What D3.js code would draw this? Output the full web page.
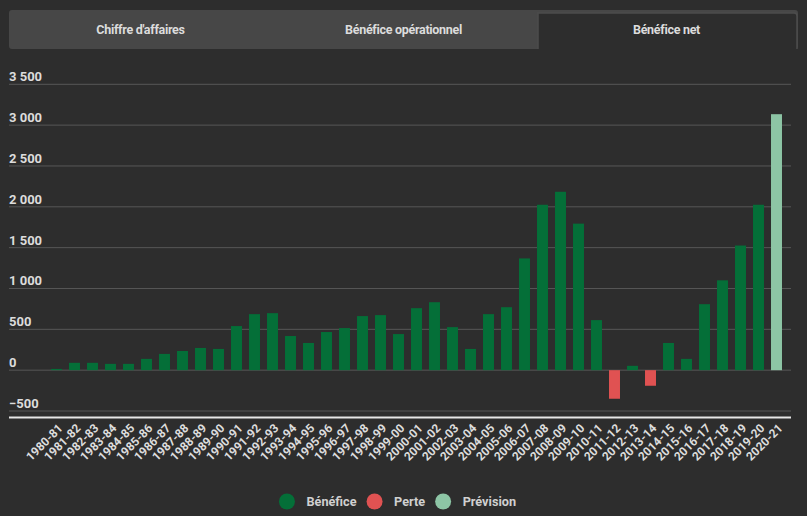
<!DOCTYPE html>
<html>
<head>
<meta charset="utf-8">
<script src="https://cdn.jsdelivr.net/npm/d3@7"></script>
<style>
    body { margin: 0; background: #2d2d2d; }
    svg { display: block; font-family: Roboto, "Noto Sans", sans-serif; }
</style>
</head>
<body>
<div id="chart"></div>
<script>
// Fiscal years
const years = [
    "1980-81", "1981-82", "1982-83", "1983-84", "1984-85", "1985-86", "1986-87", "1987-88",
    "1988-89", "1989-90", "1990-91", "1991-92", "1992-93", "1993-94", "1994-95", "1995-96",
    "1996-97", "1997-98", "1998-99", "1999-00", "2000-01", "2001-02", "2002-03", "2003-04",
    "2004-05", "2005-06", "2006-07", "2007-08", "2008-09", "2009-10", "2010-11", "2011-12",
    "2012-13", "2013-14", "2014-15", "2015-16", "2016-17", "2017-18", "2018-19", "2019-20",
    "2020-21"
];

// Net profit per year (last one is a forecast)
const netValues = [
    15, 90, 90, 77, 77, 138, 199, 235, 272, 260,
    540, 686, 698, 418, 333, 467, 515, 662, 674, 442,
    759, 832, 527, 260, 686, 771, 1368, 2025, 2184, 1794,
    613, -350, 53, -191, 333, 138, 808, 1100, 1526, 2025,
    3134
];
const forecastYears = ["2020-21"];

const yTicks = [-500, 0, 500, 1000, 1500, 2000, 2500, 3000, 3500];
const tabs = ["Chiffre d'affaires", "Bénéfice opérationnel", "Bénéfice net"];
const activeTab = "Bénéfice net";

const legendItems = [
    { key: "profit", label: "Bénéfice", color: "#046f38" },
    { key: "loss", label: "Perte", color: "#e05252" },
    { key: "forecast", label: "Prévision", color: "#8dc5a5" }
];

const width = 807;
const height = 516;
const colorOf = Object.fromEntries(legendItems.map(d => [d.key, d.color]));

const data = years.map((year, i) => ({
    year,
    value: netValues[i],
    kind: forecastYears.includes(year) ? "forecast" : (netValues[i] < 0 ? "loss" : "profit")
}));

const svg = d3.select("#chart").append("svg")
    .attr("width", width)
    .attr("height", height);

// Tabs
const tabBar = svg.append("g");
const tabX = d3.scaleBand().domain(tabs).range([9, 798]);

tabBar.append("rect")
    .attr("x", 9).attr("y", 10)
    .attr("width", 789).attr("height", 39)
    .attr("rx", 3)
    .attr("fill", "#474747");

tabBar.append("path")
    .attr("d", `M${tabX(activeTab) + 3},49 V13 H${tabX(activeTab) + tabX.bandwidth() - 4} q3,0 3,3 V49`)
    .attr("fill", "#2d2d2d")
    .attr("stroke", "#4c4c4c")
    .attr("stroke-width", 1.5);

tabBar.selectAll("text")
    .data(tabs)
    .join("text")
    .attr("x", d => tabX(d) + tabX.bandwidth() / 2)
    .attr("y", 29.5)
    .attr("dy", "0.35em")
    .attr("text-anchor", "middle")
    .attr("fill", "#dcdcdc")
    .attr("font-size", 12.5)
    .attr("font-weight", 700)
    .attr("letter-spacing", -0.3)
    .text(d => d);

// Scales
const x = d3.scaleBand()
    .domain(years)
    .range([47.5, 785.5])
    .paddingInner(0.39)
    .paddingOuter(0.195);

const y = d3.scaleLinear()
    .domain([-500, 3500])
    .range([411, 84.3]);

// Gridlines + y labels
const grid = svg.append("g");
grid.selectAll("line")
    .data(yTicks)
    .join("line")
    .attr("x1", 9).attr("x2", 791)
    .attr("y1", d => y(d)).attr("y2", d => y(d))
    .attr("stroke", "#575757")
    .attr("stroke-width", 1);

grid.selectAll("text")
    .data(yTicks)
    .join("text")
    .attr("x", 9)
    .attr("y", d => y(d) - 3)
    .attr("fill", "#dcdcdc")
    .attr("font-size", 13)
    .attr("font-weight", 700)
    .text(d => d3.format(",")(d).replace(/,/g, " "));

// Bars
svg.append("g")
    .selectAll("rect")
    .data(data)
    .join("rect")
    .attr("x", d => x(d.year))
    .attr("width", x.bandwidth())
    .attr("y", d => y(Math.max(0, d.value)))
    .attr("height", d => Math.abs(y(d.value) - y(0)))
    .attr("fill", d => colorOf[d.kind]);

// X axis line
svg.append("line")
    .attr("x1", 9).attr("x2", 791)
    .attr("y1", 417.5).attr("y2", 417.5)
    .attr("stroke", "#e6e6e6")
    .attr("stroke-width", 2);

// X labels, rotated
svg.append("g")
    .selectAll("text")
    .data(years)
    .join("text")
    .attr("transform", d => `translate(${x(d) + x.bandwidth() / 2 + 4},${426}) rotate(-45)`)
    .attr("text-anchor", "end")
    .attr("dy", "0.35em")
    .attr("fill", "#dcdcdc")
    .attr("font-size", 12)
    .attr("font-weight", 700)
    .text(d => d);

// Legend
const legend = svg.append("g");
const items = legend.selectAll("g")
    .data(legendItems)
    .join("g");

items.append("circle")
    .attr("r", 8)
    .attr("fill", d => d.color);

items.append("text")
    .attr("x", 19.5)
    .attr("dy", "0.35em")
    .attr("fill", "#d0d0d0")
    .attr("font-size", 12.7)
    .attr("font-weight", 700)
    .text(d => d.label);

let offset = 0;
const offsets = [];
items.each(function () {
    offsets.push(offset);
    const tw = d3.select(this).select("text").node().getComputedTextLength();
    offset += 19.5 + tw + 18;
});
const totalWidth = offset - 18 + 8;
const startX = 397.5 - totalWidth / 2 + 8;
items.attr("transform", (d, i) => `translate(${startX + offsets[i]},501.5)`);
</script>
</body>
</html>
